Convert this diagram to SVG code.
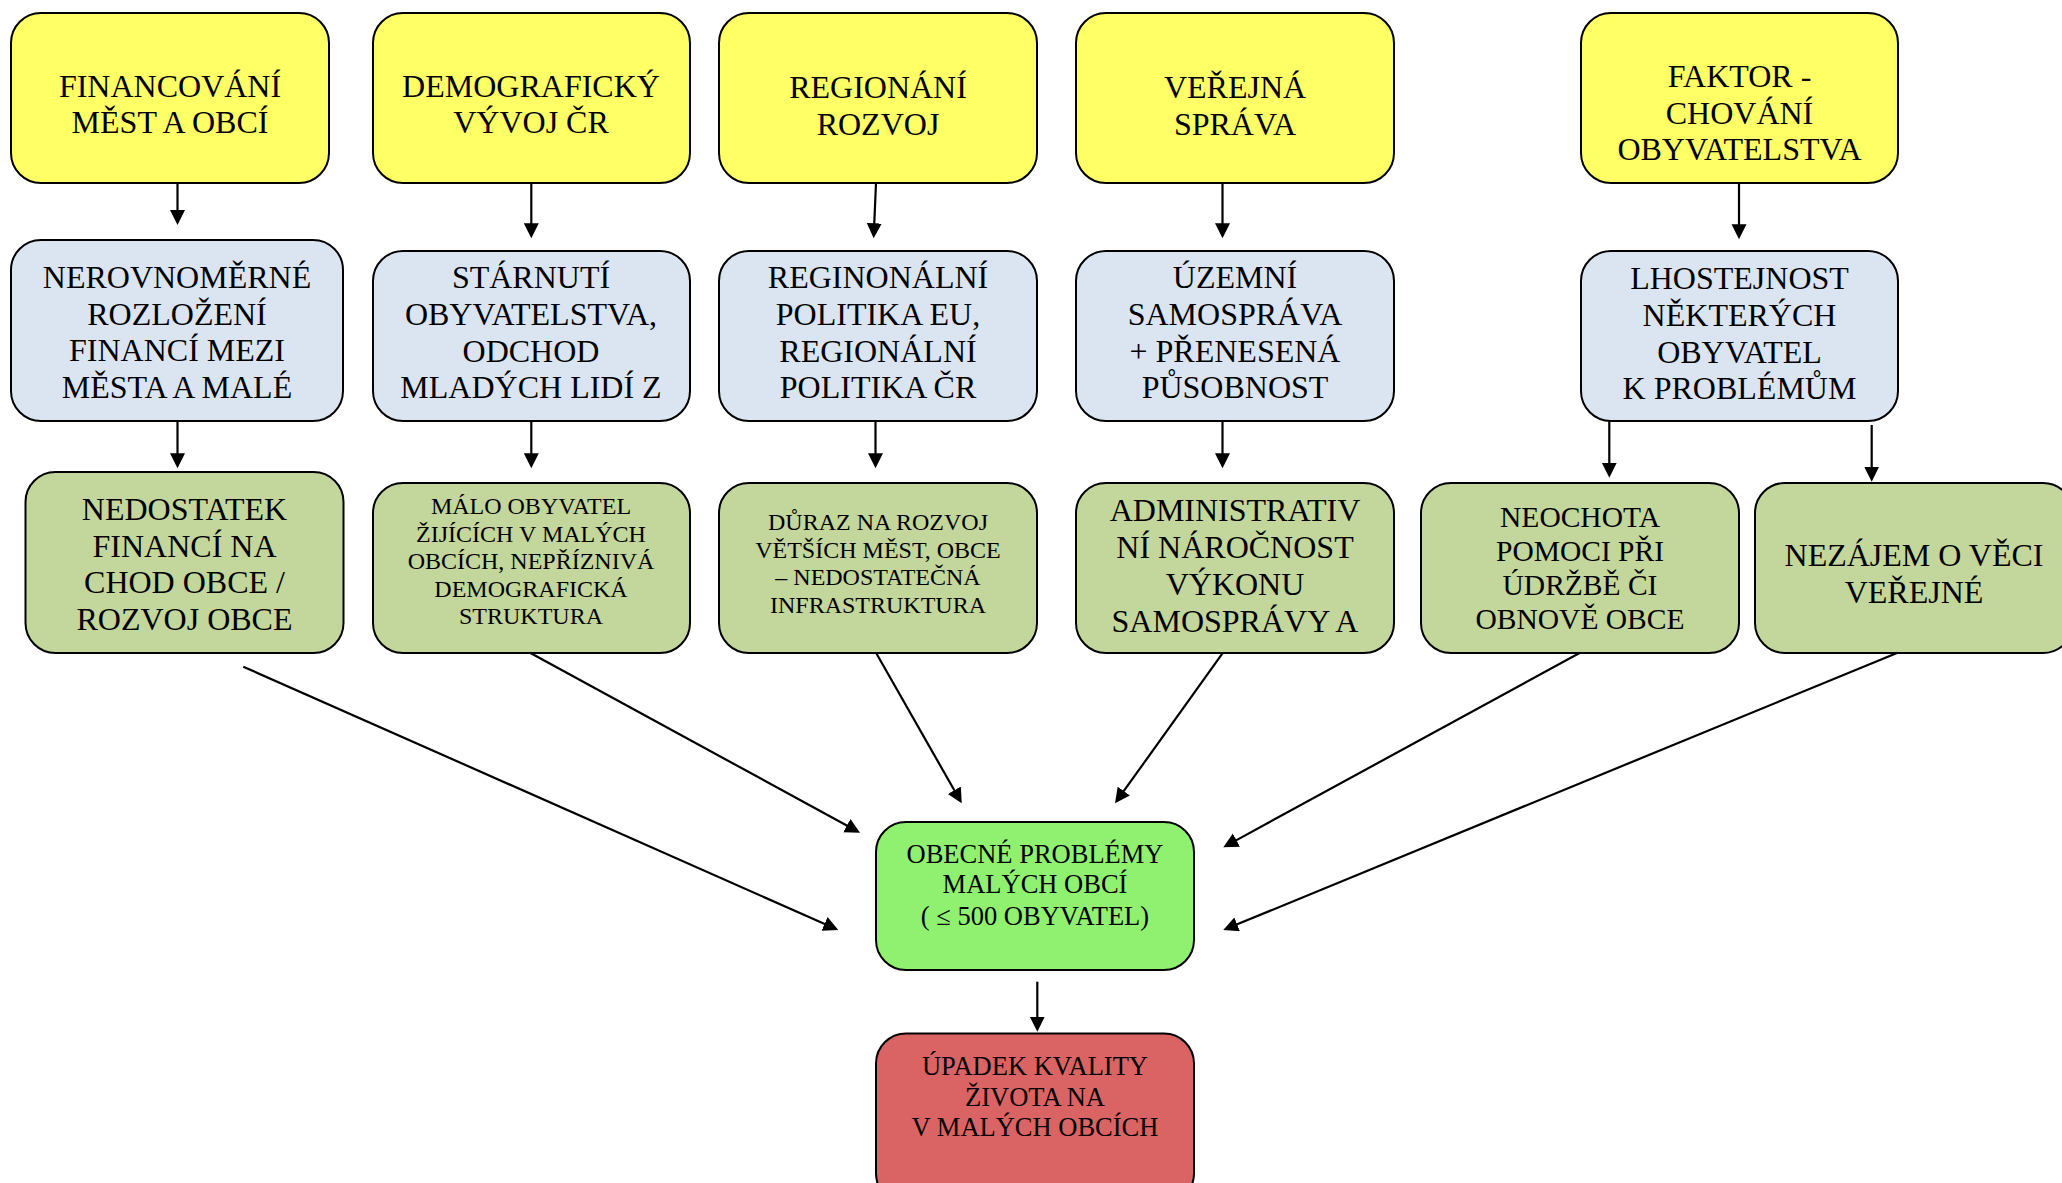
<svg xmlns="http://www.w3.org/2000/svg" width="2062" height="1183" viewBox="0 0 2062 1183" font-family="'Liberation Serif', Tinos, 'DejaVu Serif', serif">
<style>
  text { font-family: 'Liberation Serif', Tinos, 'DejaVu Serif', serif; fill: #000; text-anchor: middle; }
  .t32 { font-size: 32px; }
  .t29 { font-size: 29.5px; }
  .t24 { font-size: 24px; }
  .t26 { font-size: 26.5px; }
  .box { stroke: #000; stroke-width: 2; }
  .yel { fill: #FFFF66; }
  .blu { fill: #DBE5F1; }
  .grn { fill: #C3D69B; }
  .lgr { fill: #90F070; }
  .red { fill: #DA6464; }
  .con line { stroke: #000; stroke-width: 2.2; marker-end: url(#ah); }
</style>
<defs>
  <marker id="ah" markerUnits="userSpaceOnUse" markerWidth="16" markerHeight="16" refX="2" refY="7.5" orient="auto">
    <path d="M0,0 L15,7.5 L0,15 z" fill="#000"/>
  </marker>
</defs>
<rect width="2062" height="1183" fill="#fff"/>

<!-- Row 1 -->
<g id="y-financovani">
  <rect class="box yel" x="11" y="13" width="318" height="170" rx="30"/>
  <text class="t32" x="170" y="97">FINANCOVÁNÍ</text>
  <text class="t32" x="170" y="133">MĚST A OBCÍ</text>
</g>
<g id="y-demograficky">
  <rect class="box yel" x="373" y="13" width="317" height="170" rx="30"/>
  <text class="t32" x="531" y="97">DEMOGRAFICKÝ</text>
  <text class="t32" x="531" y="133">VÝVOJ ČR</text>
</g>
<g id="y-regionani">
  <rect class="box yel" x="719" y="13" width="318" height="170" rx="30"/>
  <text class="t32" x="878" y="97.5">REGIONÁNÍ</text>
  <text class="t32" x="878" y="134.5">ROZVOJ</text>
</g>
<g id="y-verejna">
  <rect class="box yel" x="1076" y="13" width="318" height="170" rx="30"/>
  <text class="t32" x="1235" y="97.5">VEŘEJNÁ</text>
  <text class="t32" x="1235" y="134.5">SPRÁVA</text>
</g>
<g id="y-faktor">
  <rect class="box yel" x="1581" y="13" width="317" height="170" rx="30"/>
  <text class="t32" x="1739.5" y="87">FAKTOR -</text>
  <text class="t32" x="1739.5" y="123.5">CHOVÁNÍ</text>
  <text class="t32" x="1739.5" y="160">OBYVATELSTVA</text>
</g>

<!-- Row 2 -->
<g id="b-nerovnomerne">
  <rect class="box blu" x="11" y="240" width="332" height="181" rx="30"/>
  <text class="t32" x="177" y="288">NEROVNOMĚRNÉ</text>
  <text class="t32" x="177" y="324.5">ROZLOŽENÍ</text>
  <text class="t32" x="177" y="361">FINANCÍ MEZI</text>
  <text class="t32" x="177" y="397.5">MĚSTA A MALÉ</text>
</g>
<g id="b-starnuti">
  <rect class="box blu" x="373" y="251" width="317" height="170" rx="30"/>
  <text class="t32" x="531" y="288">STÁRNUTÍ</text>
  <text class="t32" x="531" y="324.8">OBYVATELSTVA,</text>
  <text class="t32" x="531" y="361.6">ODCHOD</text>
  <text class="t32" x="531" y="398.4">MLADÝCH LIDÍ Z</text>
</g>
<g id="b-regionalni">
  <rect class="box blu" x="719" y="251" width="318" height="170" rx="30"/>
  <text class="t32" x="878" y="288">REGINONÁLNÍ</text>
  <text class="t32" x="878" y="324.8">POLITIKA EU,</text>
  <text class="t32" x="878" y="361.6">REGIONÁLNÍ</text>
  <text class="t32" x="878" y="398.4">POLITIKA ČR</text>
</g>
<g id="b-uzemni">
  <rect class="box blu" x="1076" y="251" width="318" height="170" rx="30"/>
  <text class="t32" x="1235" y="288">ÚZEMNÍ</text>
  <text class="t32" x="1235" y="324.8">SAMOSPRÁVA</text>
  <text class="t32" x="1235" y="361.6">+ PŘENESENÁ</text>
  <text class="t32" x="1235" y="398.4">PŮSOBNOST</text>
</g>
<g id="b-lhostejnost">
  <rect class="box blu" x="1581" y="251" width="317" height="170" rx="30"/>
  <text class="t32" x="1739.5" y="289">LHOSTEJNOST</text>
  <text class="t32" x="1739.5" y="325.7">NĚKTERÝCH</text>
  <text class="t32" x="1739.5" y="362.5">OBYVATEL</text>
  <text class="t32" x="1739.5" y="399.3">K PROBLÉMŮM</text>
</g>

<!-- Row 3 -->
<g id="g-nedostatek">
  <rect class="box grn" x="25.5" y="472" width="318" height="181" rx="30"/>
  <text class="t32" x="184.5" y="520">NEDOSTATEK</text>
  <text class="t32" x="184.5" y="556.5">FINANCÍ NA</text>
  <text class="t32" x="184.5" y="593">CHOD OBCE /</text>
  <text class="t32" x="184.5" y="629.5">ROZVOJ OBCE</text>
</g>
<g id="g-malo">
  <rect class="box grn" x="373" y="483" width="317" height="170" rx="30"/>
  <text class="t24" x="531" y="514">MÁLO OBYVATEL</text>
  <text class="t24" x="531" y="541.6">ŽIJÍCÍCH V MALÝCH</text>
  <text class="t24" x="531" y="569.2">OBCÍCH, NEPŘÍZNIVÁ</text>
  <text class="t24" x="531" y="596.8">DEMOGRAFICKÁ</text>
  <text class="t24" x="531" y="624.4">STRUKTURA</text>
</g>
<g id="g-duraz">
  <rect class="box grn" x="719" y="483" width="318" height="170" rx="30"/>
  <text class="t24" x="878" y="530">DŮRAZ NA ROZVOJ</text>
  <text class="t24" x="878" y="557.6">VĚTŠÍCH MĚST, OBCE</text>
  <text class="t24" x="878" y="585.2">– NEDOSTATEČNÁ</text>
  <text class="t24" x="878" y="612.8">INFRASTRUKTURA</text>
</g>
<g id="g-administrativni">
  <rect class="box grn" x="1076" y="483" width="318" height="170" rx="30"/>
  <text class="t32" x="1235" y="520.5">ADMINISTRATIV</text>
  <text class="t32" x="1235" y="557.5">NÍ NÁROČNOST</text>
  <text class="t32" x="1235" y="594.5">VÝKONU</text>
  <text class="t32" x="1235" y="631.5">SAMOSPRÁVY A</text>
</g>
<g id="g-neochota">
  <rect class="box grn" x="1421" y="483" width="318" height="170" rx="30"/>
  <text class="t29" x="1580" y="526.5">NEOCHOTA</text>
  <text class="t29" x="1580" y="560.5">POMOCI PŘI</text>
  <text class="t29" x="1580" y="594.5">ÚDRŽBĚ ČI</text>
  <text class="t29" x="1580" y="628.5">OBNOVĚ OBCE</text>
</g>
<g id="g-nezajem">
  <rect class="box grn" x="1755" y="483" width="318" height="170" rx="30"/>
  <text class="t32" x="1914" y="566">NEZÁJEM O VĚCI</text>
  <text class="t32" x="1914" y="603">VEŘEJNÉ</text>
</g>

<!-- Center -->
<g id="c-obecne">
  <rect class="box lgr" x="876" y="822" width="318" height="148" rx="30"/>
  <text class="t26" x="1035" y="863">OBECNÉ PROBLÉMY</text>
  <text class="t26" x="1035" y="893">MALÝCH OBCÍ</text>
  <text class="t26" x="1035" y="925">( ≤ 500 OBYVATEL)</text>
</g>
<g id="r-upadek">
  <rect class="box red" x="876" y="1033.5" width="318" height="170" rx="30"/>
  <text class="t26" x="1035" y="1075">ÚPADEK KVALITY</text>
  <text class="t26" x="1035" y="1105.5">ŽIVOTA NA</text>
  <text class="t26" x="1035" y="1136">V MALÝCH OBCÍCH</text>
</g>

<!-- Connectors -->
<g id="connectors" class="con">
  <line x1="177.5" y1="183" x2="177.5" y2="212"/>
  <line x1="531.3" y1="183" x2="531.3" y2="225.3"/>
  <line x1="876" y1="183" x2="874.2" y2="225.3"/>
  <line x1="1222.5" y1="183" x2="1222.5" y2="225.3"/>
  <line x1="1739" y1="183" x2="1739" y2="226.3"/>

  <line x1="177.5" y1="421" x2="177.5" y2="455.3"/>
  <line x1="531.3" y1="421" x2="531.3" y2="455.3"/>
  <line x1="875.5" y1="421" x2="875.5" y2="455.3"/>
  <line x1="1222.5" y1="421" x2="1222.5" y2="455.3"/>
  <line x1="1609.3" y1="421" x2="1609.3" y2="464.7"/>
  <line x1="1871.7" y1="425" x2="1871.7" y2="468.7"/>

  <line x1="243.3" y1="666.7" x2="826.4" y2="924.7"/>
  <line x1="530" y1="652.7" x2="848.6" y2="826.5"/>
  <line x1="876" y1="652.7" x2="955.3" y2="792"/>
  <line x1="1223" y1="652.7" x2="1122.6" y2="792.7"/>
  <line x1="1580" y1="652.7" x2="1234.7" y2="841.1"/>
  <line x1="1897.6" y1="652.7" x2="1235.3" y2="925.1"/>

  <line x1="1037.3" y1="981.7" x2="1037.3" y2="1018.7"/>
</g>
</svg>
